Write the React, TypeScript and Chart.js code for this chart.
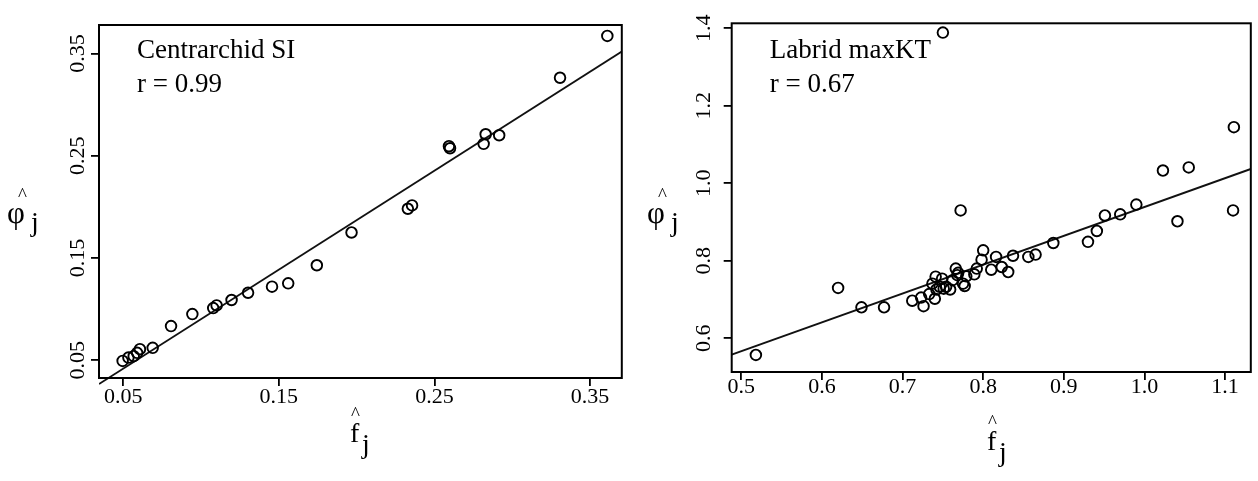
import React, { useEffect, useRef } from "react";
import { Chart, registerables } from "chart.js";

Chart.register(...registerables);

// ---------- Data: Centrarchid SI (left panel) ----------
const centrarchidF = [
  0.0496, 0.0533, 0.0567, 0.0589, 0.0607, 0.0689, 0.0807, 0.0944, 0.1078, 0.110,
  0.1196, 0.1302, 0.1456, 0.156, 0.1744, 0.1967, 0.2329, 0.2356, 0.2593, 0.260,
  0.2816, 0.2829, 0.2916, 0.3307, 0.3611,
];
const centrarchidPhi = [
  0.0493, 0.0526, 0.054, 0.0572, 0.0608, 0.0621, 0.0834, 0.0951, 0.101, 0.1036,
  0.1089, 0.116, 0.122, 0.1252, 0.1429, 0.175, 0.1982, 0.2015, 0.2594, 0.2574,
  0.2617, 0.2711, 0.2701, 0.3264, 0.3673,
];
const centrarchidLineX = [0.0344, 0.3704];
const centrarchidLineY = [0.0267, 0.352];
const centrarchidTicks = [0.05, 0.15, 0.25, 0.35];
const centrarchidTickLabels = ["0.05", "0.15", "0.25", "0.35"];
const centrarchidXRange = [0.0344, 0.3704];
const centrarchidYRange = [0.0326, 0.378];
const centrarchidText = ["Centrarchid SI", "r = 0.99"];

// ---------- Data: Labrid maxKT (right panel) ----------
const labridF = [
  0.518, 0.620, 0.649, 0.677, 0.712, 0.723, 0.726, 0.733, 0.737, 0.740,
  0.741, 0.742, 0.746, 0.749, 0.751, 0.754, 0.750, 0.759, 0.762, 0.766,
  0.768, 0.769, 0.772, 0.775, 0.777, 0.779, 0.789, 0.792, 0.798, 0.800,
  0.810, 0.816, 0.823, 0.831, 0.837, 0.856, 0.865, 0.887, 0.930, 0.941,
  0.951, 0.970, 0.990, 1.023, 1.041, 1.055, 1.111, 1.110,
];
const labridPhi = [
  0.557, 0.730, 0.680, 0.680, 0.697, 0.705, 0.683, 0.714, 0.741, 0.702,
  0.759, 0.726, 0.733, 0.754, 0.728, 0.733, 1.389, 0.726, 0.750, 0.780,
  0.763, 0.769, 0.930, 0.741, 0.735, 0.760, 0.765, 0.780, 0.803, 0.827,
  0.777, 0.810, 0.784, 0.771, 0.813, 0.810, 0.816, 0.846, 0.849, 0.877,
  0.917, 0.920, 0.945, 1.033, 0.902, 1.041, 1.145, 0.930,
];
const labridLineX = [0.488, 1.132];
const labridLineY = [0.558, 1.037];
const labridXTicks = [0.5, 0.6, 0.7, 0.8, 0.9, 1.0, 1.1];
const labridXTickLabels = ["0.5", "0.6", "0.7", "0.8", "0.9", "1.0", "1.1"];
const labridYTicks = [0.6, 0.8, 1.0, 1.2, 1.4];
const labridYTickLabels = ["0.6", "0.8", "1.0", "1.2", "1.4"];
const labridXRange = [0.488, 1.132];
const labridYRange = [0.513, 1.413];
const labridText = ["Labrid maxKT", "r = 0.67"];

const SERIF = '"Liberation Serif", "Times New Roman", serif';

type PanelSpec = {
  xs: number[];
  ys: number[];
  lineX: number[];
  lineY: number[];
  xTicks: number[];
  xLabels: string[];
  yTicks: number[];
  yLabels: string[];
  xRange: number[];
  yRange: number[];
  text: string[];
  padding: { left: number; right: number; top: number; bottom: number };
  yPad: number;
  xPad: number;
  titleX: { fx: number; fy: number };
  titleY: { px: number; py: number };
};

function drawHatSub(
  ctx: CanvasRenderingContext2D,
  glyph: string,
  size: number,
  x: number,
  baseline: number,
  hatDx: number,
  hatDy: number,
  subDx: number,
  subDy: number
) {
  ctx.save();
  ctx.fillStyle = "#000";
  ctx.textAlign = "left";
  ctx.textBaseline = "alphabetic";
  ctx.font = `${size}px ${SERIF}`;
  ctx.fillText(glyph, x, baseline);
  ctx.font = `19px ${SERIF}`;
  ctx.fillText("^", x + hatDx, baseline + hatDy);
  ctx.font = `28px ${SERIF}`;
  ctx.fillText("j", x + subDx, baseline + subDy);
  ctx.restore();
}

function makeConfig(p: PanelSpec): any {
  const points = p.xs.map((x, i) => ({ x, y: p.ys[i] }));
  const line = p.lineX.map((x, i) => ({ x, y: p.lineY[i] }));

  const boxPlugin = {
    id: "box",
    afterDraw(chart: any) {
      const { ctx, chartArea } = chart;
      ctx.save();
      ctx.strokeStyle = "#000";
      ctx.lineWidth = 2;
      ctx.strokeRect(
        chartArea.left,
        chartArea.top,
        chartArea.right - chartArea.left,
        chartArea.bottom - chartArea.top
      );
      ctx.restore();
    },
  };

  const textPlugin = {
    id: "texts",
    afterDraw(chart: any) {
      const { ctx, chartArea } = chart;
      ctx.save();
      ctx.fillStyle = "#000";
      ctx.font = `27px ${SERIF}`;
      ctx.textAlign = "left";
      ctx.textBaseline = "alphabetic";
      ctx.fillText(p.text[0], chartArea.left + 38, 58);
      ctx.fillText(p.text[1], chartArea.left + 38, 92);
      ctx.restore();
      // axis titles (upright, as in the original)
      drawHatSub(ctx, "f", 28, p.titleX.fx, p.titleX.fy, 1, -22, 12, 11);
      drawHatSub(ctx, "\u03C6", 31, p.titleY.px, p.titleY.py, 11, -22, 24, 8);
    },
  };

  return {
    type: "scatter",
    data: {
      datasets: [
        {
          type: "scatter",
          data: points,
          pointStyle: "circle",
          pointRadius: 5.3,
          pointBorderWidth: 1.9,
          borderColor: "#000",
          backgroundColor: "rgba(0,0,0,0)",
          pointBackgroundColor: "rgba(0,0,0,0)",
          pointBorderColor: "#000",
        },
        {
          type: "line",
          data: line,
          borderColor: "#111",
          borderWidth: 1.9,
          pointRadius: 0,
          fill: false,
          tension: 0,
          clip: { left: 0, right: 0, top: 0, bottom: 14 },
        },
      ],
    },
    options: {
      animation: false,
      responsive: false,
      devicePixelRatio: 1,
      events: [],
      layout: { padding: p.padding },
      plugins: {
        legend: { display: false },
        tooltip: { enabled: false },
      },
      scales: {
        x: {
          type: "linear",
          position: "bottom",
          min: p.xRange[0],
          max: p.xRange[1],
          afterBuildTicks: (s: any) => {
            s.ticks = p.xTicks.map((v) => ({ value: v }));
          },
          afterFit: (s: any) => {
            s.height = 60;
          },
          ticks: {
            autoSkip: false,
            minRotation: 0,
            maxRotation: 0,
            color: "#000",
            padding: p.xPad,
            font: { family: SERIF, size: 22 },
            callback: (_v: any, i: number) => p.xLabels[i],
          },
          grid: {
            display: true,
            drawOnChartArea: false,
            drawTicks: true,
            tickLength: 8,
            color: "#000",
            lineWidth: 1.8,
          },
          border: { display: false },
        },
        y: {
          type: "linear",
          position: "left",
          min: p.yRange[0],
          max: p.yRange[1],
          afterBuildTicks: (s: any) => {
            s.ticks = p.yTicks.map((v) => ({ value: v }));
          },
          afterFit: (s: any) => {
            s.width = 60;
          },
          ticks: {
            autoSkip: false,
            minRotation: 90,
            maxRotation: 90,
            crossAlign: "center",
            color: "#000",
            padding: p.yPad,
            font: { family: SERIF, size: 22 },
            callback: (_v: any, i: number) => p.yLabels[i],
          },
          grid: {
            display: true,
            drawOnChartArea: false,
            drawTicks: true,
            tickLength: 8,
            color: "#000",
            lineWidth: 1.8,
          },
          border: { display: false },
        },
      },
    },
    plugins: [boxPlugin, textPlugin],
  };
}

const leftSpec: PanelSpec = {
  xs: centrarchidF,
  ys: centrarchidPhi,
  lineX: centrarchidLineX,
  lineY: centrarchidLineY,
  xTicks: centrarchidTicks,
  xLabels: centrarchidTickLabels,
  yTicks: centrarchidTicks,
  yLabels: centrarchidTickLabels,
  xRange: centrarchidXRange,
  yRange: centrarchidYRange,
  text: centrarchidText,
  padding: { left: 39, right: 2, top: 25, bottom: 43 },
  yPad: -6,
  xPad: -2,
  titleX: { fx: 350, fy: 442 },
  titleY: { px: 7, py: 223 },
};

const rightSpec: PanelSpec = {
  xs: labridF,
  ys: labridPhi,
  lineX: labridLineX,
  lineY: labridLineY,
  xTicks: labridXTicks,
  xLabels: labridXTickLabels,
  yTicks: labridYTicks,
  yLabels: labridYTickLabels,
  xRange: labridXRange,
  yRange: labridYRange,
  text: labridText,
  padding: { left: 42.7, right: 3, top: 23.3, bottom: 49 },
  yPad: 6,
  xPad: -6,
  titleX: { fx: 358, fy: 450 },
  titleY: { px: 18, py: 223 },
};

function Panel({ spec, left }: { spec: PanelSpec; left: number }) {
  const ref = useRef<HTMLCanvasElement | null>(null);
  useEffect(() => {
    if (!ref.current) return;
    const chart = new Chart(ref.current, makeConfig(spec));
    return () => chart.destroy();
  }, [spec]);
  return (
    <canvas
      ref={ref}
      width={629}
      height={481}
      style={{ position: "absolute", left, top: 0, width: 629, height: 481 }}
    />
  );
}

export default function App() {
  return (
    <div
      style={{
        position: "fixed",
        left: 0,
        top: 0,
        width: 1258,
        height: 481,
        background: "#fff",
        overflow: "hidden",
      }}
    >
      <Panel spec={leftSpec} left={0} />
      <Panel spec={rightSpec} left={629} />
    </div>
  );
}
